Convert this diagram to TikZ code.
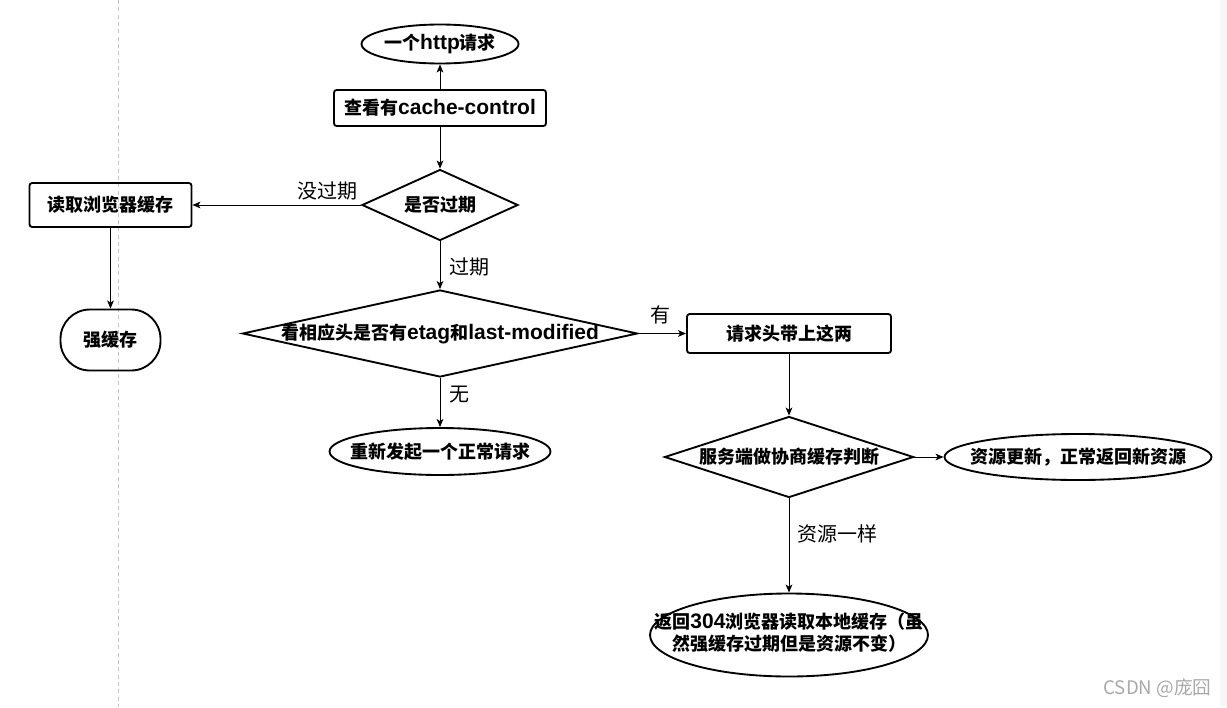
\documentclass[tikz,border=0pt]{standalone}
\usepackage{fontspec}
\setmainfont{Noto Sans CJK SC}
\newfontfamily\latinfont{Liberation Sans}
\usetikzlibrary{shapes.geometric,arrows.meta}

\newcommand*{\colA}{440}
\newcommand*{\colB}{789}
\newcommand*{\nodefont}{\fontsize{13.5}{16.3}\selectfont\bfseries}
\newcommand*{\lblfont}{\fontsize{15}{18}\selectfont}
\newcommand*{\lat}[1]{{\latinfont\fontsize{15.75}{16.3}\selectfont\bfseries #1}}
\newcommand*{\zw}[1]{\makebox[0pt]{#1}}
\definecolor{mark}{HTML}{A8A8A8}

\tikzset{
  flow/.style={draw, line width=1.4pt, font=\nodefont, inner sep=0pt},
  box/.style={flow, rounded corners=2pt},
  oval/.style={flow, ellipse},
  pill/.style={flow, rounded corners=22pt},
  dia/.style={flow, diamond},
  lbl/.style={font=\lblfont, inner sep=0pt},
  arr/.style={-{Stealth[length=6pt,width=5pt,inset=1.5pt]}, line width=0.75pt},
}

\begin{document}
\begin{tikzpicture}[x=0.75pt,y=-0.75pt]
    \useasboundingbox (0,0) rectangle (1227,707);

    % page edge and guide line
    \fill [gray!6] (1220,0) rectangle (1227,707);
    \draw [gray!45, line width=0.6pt, dash pattern=on 3pt off 2.5pt] (118.3,0) -- (118.3,707);

    % left and middle column
    \node[oval, minimum width=117.75pt, minimum height=29.25pt] (req) at (\colA,44) {\zw{一个\lat{http}请求}};
    \node[box, minimum width=159pt, minimum height=27pt] (ctrl) at (\colA,108) {查看有\lat{cache-control}};
    \node[dia, minimum width=117pt, minimum height=53.25pt] (expired) at (\colA,205) {\zw{是否过期}};
    \node[box, minimum width=121.5pt, minimum height=33pt] (browser) at (110.5,205) {读取浏览器缓存};
    \node[pill, minimum width=75pt, minimum height=45.75pt] (strong) at (110.5,340) {强缓存};
    \node[dia, minimum width=296.25pt, minimum height=65.25pt] (etag) at (\colA,333.5) {\zw{看相应头是否有\lat{etag}和\lat{last-modified}}};
    \node[oval, minimum width=165.75pt, minimum height=35.25pt] (again) at (\colA,451.5) {\zw{重新发起一个正常请求}};

    % right column
    \node[box, minimum width=153pt, minimum height=29.25pt] (header) at (\colB,333.5) {请求头带上这两};
    \node[dia, minimum width=186.75pt, minimum height=60.75pt] (server) at (\colB,457) {\zw{服务端做协商缓存判断}};
    \node[oval, minimum width=200.25pt, minimum height=34.5pt] (fresh) at (1078,457) {\zw{资源更新，正常返回新资源}};
    \node[oval, minimum width=208.5pt, minimum height=62.25pt] (local) at (\colB,635)
        {\zw{\begin{tabular}{@{}c@{}}返回\lat{304}浏览器读取本地缓存（虽\\然强缓存过期但是资源不变）\end{tabular}}};

    % labels
    \node[lbl] (l-notexp) at (327.5,190.7) {没过期};
    \node[lbl] (l-exp) at (469.5,266.7) {过期};
    \node[lbl] (l-yes) at (660,315) {有};
    \node[lbl] (l-no) at (459,395) {无};
    \node[lbl] (l-same) at (837.5,534) {资源一样};

    \draw[arr] (ctrl) -- (req);
    \draw[arr] (ctrl) -- (expired);
    \draw[arr] (expired) -- (browser);
    \draw[arr] (browser) -- (strong);
    \draw[arr] (expired) -- (etag);
    \draw[arr] (etag) -- (header);
    \draw[arr] (etag) -- (again);
    \draw[arr] (header) -- (server);
    \draw[arr] (server) -- (fresh);
    \draw[arr] (server) -- (local);

    \node[font=\fontsize{14}{16}\selectfont, text=mark, inner sep=0pt] (wm) at (1157.5,688) {CSDN @庞囧};

\end{tikzpicture}
\end{document}
